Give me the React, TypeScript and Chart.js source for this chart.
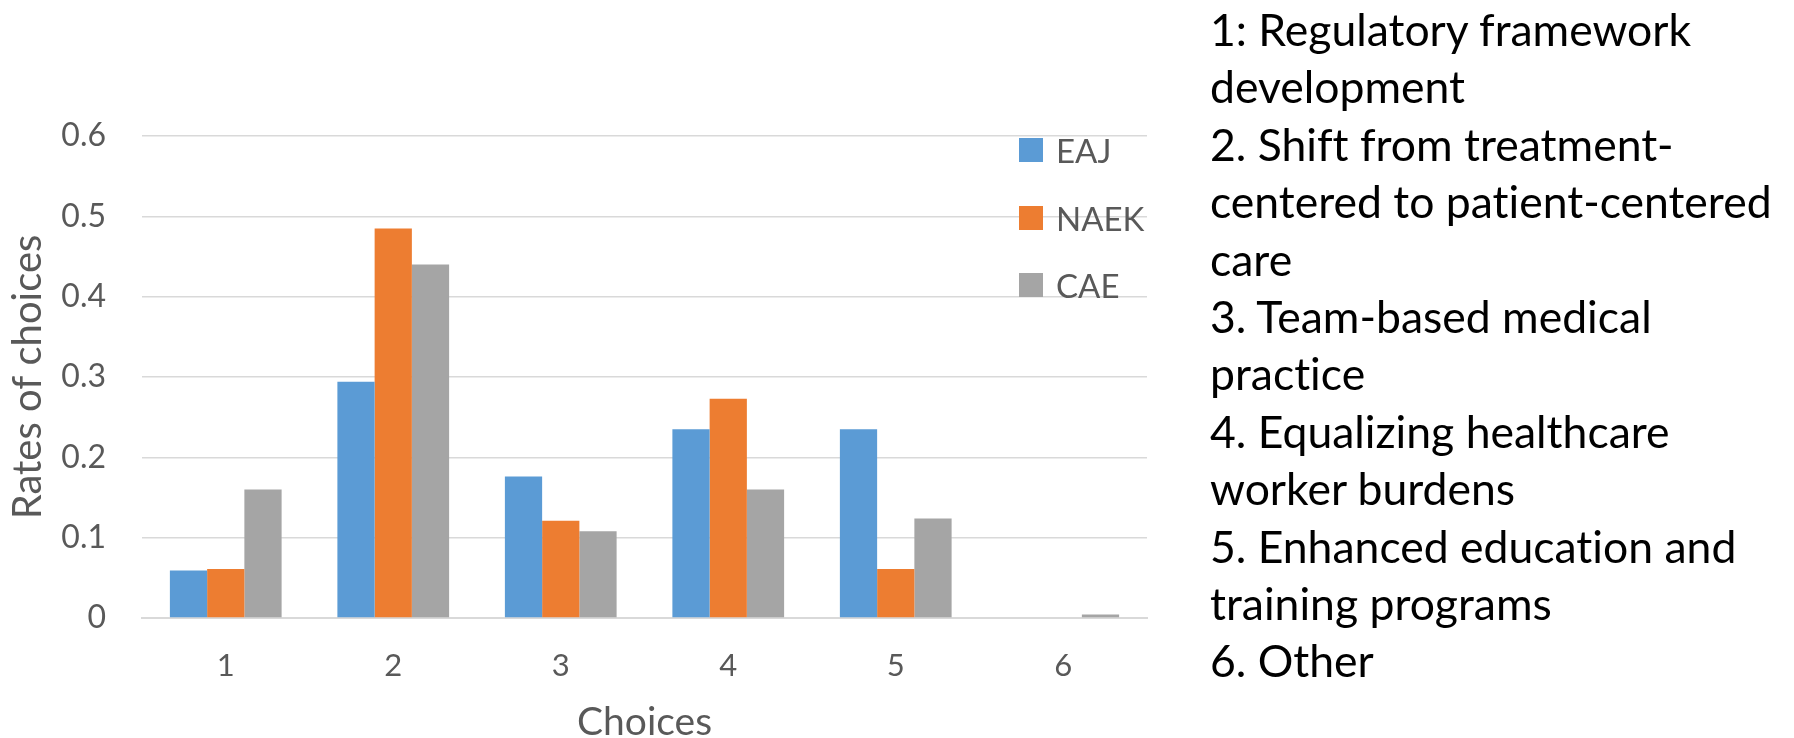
import React, { useEffect, useRef } from 'react';
import { Chart, registerables } from 'chart.js';

Chart.register(...registerables);

// ---- data ----
const categories = ['1', '2', '3', '4', '5', '6'];
const seriesNames = ['EAJ', 'NAEK', 'CAE'];
const eajValues = [0.059, 0.294, 0.176, 0.235, 0.235, 0];
const naekValues = [0.061, 0.485, 0.121, 0.273, 0.061, 0];
const caeValues = [0.16, 0.44, 0.108, 0.16, 0.124, 0.0045];
const seriesColors = ['#5B9BD5', '#ED7D31', '#A5A5A5'];
const yTickLabels = ['0', '0.1', '0.2', '0.3', '0.4', '0.5', '0.6'];
const yAxisTitle = 'Rates of choices';
const xAxisTitle = 'Choices';
const descriptionLines = [
  '1: Regulatory framework',
  'development',
  '2. Shift from treatment-',
  'centered to patient-centered',
  'care',
  '3. Team-based medical',
  'practice',
  '4. Equalizing healthcare',
  'worker burdens',
  '5. Enhanced education and',
  'training programs',
  '6. Other',
];

const W = 1794;
const H = 738;
const FONT = 'Lato';
const TEXT_GRAY = '#595959';

export default function App() {
  const ref = useRef<HTMLCanvasElement>(null);

  useEffect(() => {
    const seriesValues = [eajValues, naekValues, caeValues];
    const chart = new Chart(ref.current as HTMLCanvasElement, {
      type: 'bar',
      data: {
        labels: categories,
        datasets: seriesNames.map((name, i) => ({
          label: name,
          data: seriesValues[i],
          backgroundColor: seriesColors[i],
          borderWidth: 0,
          categoryPercentage: 0.667,
          barPercentage: 1.0,
        })),
      },
      options: {
        responsive: false,
        animation: false,
        devicePixelRatio: 1,
        layout: { padding: { left: 0, top: 136, right: W - 1147, bottom: 0 } },
        plugins: { legend: { display: false }, tooltip: { enabled: false } },
        scales: {
          x: {
            grid: { display: false, drawTicks: false },
            border: { display: true, color: '#D9D9D9', width: 2 },
            ticks: { color: TEXT_GRAY, font: { family: FONT, size: 31 }, padding: 29 },
            title: {
              display: true,
              text: xAxisTitle,
              color: TEXT_GRAY,
              font: { family: FONT, size: 39, lineHeight: 1 },
              padding: { top: 0, bottom: -4 },
            },
            afterFit: (s: any) => {
              s.height = H - 618;
            },
          },
          y: {
            min: 0,
            max: 0.6,
            ticks: {
              stepSize: 0.1,
              color: TEXT_GRAY,
              font: { family: FONT, size: 32 },
              padding: 36,
              callback: (_v: any, i: number) => yTickLabels[i],
            },
            grid: { color: '#D9D9D9', lineWidth: 1.5, drawTicks: false },
            border: { display: false },
            title: {
              display: true,
              text: yAxisTitle,
              color: TEXT_GRAY,
              font: { family: FONT, size: 40, lineHeight: 1 },
              padding: { top: 8, bottom: 0 },
            },
            afterFit: (s: any) => {
              s.width = 142;
            },
          },
        },
      },
    });
    return () => chart.destroy();
  }, []);

  return (
    <div
      style={{
        position: 'absolute',
        left: 0,
        top: 0,
        width: W,
        height: H,
        overflow: 'hidden',
        background: '#ffffff',
      }}
    >
      <canvas ref={ref} width={W} height={H} style={{ display: 'block' }} />
      {seriesNames.map((name, i) => (
        <div
          key={name}
          style={{
            position: 'absolute',
            left: 1019,
            top: 150 + i * 67.5 - 20,
            height: 40,
            display: 'flex',
            alignItems: 'center',
            fontFamily: FONT,
            fontSize: 33,
            color: TEXT_GRAY,
            whiteSpace: 'nowrap',
          }}
        >
          <span
            style={{
              display: 'inline-block',
              width: 24,
              height: 24,
              background: seriesColors[i],
              marginRight: 13,
            }}
          />
          <span>{name}</span>
        </div>
      ))}
      <div
        style={{
          position: 'absolute',
          left: 1210,
          top: 0,
          fontFamily: FONT,
          fontSize: 44.5,
          lineHeight: '57.4px',
          color: '#000000',
          whiteSpace: 'nowrap',
          fontVariantLigatures: 'none',
          fontFeatureSettings: '"liga" 0, "clig" 0',
        }}
      >
        {descriptionLines.map((line) => (
          <div key={line}>{line}</div>
        ))}
      </div>
    </div>
  );
}
